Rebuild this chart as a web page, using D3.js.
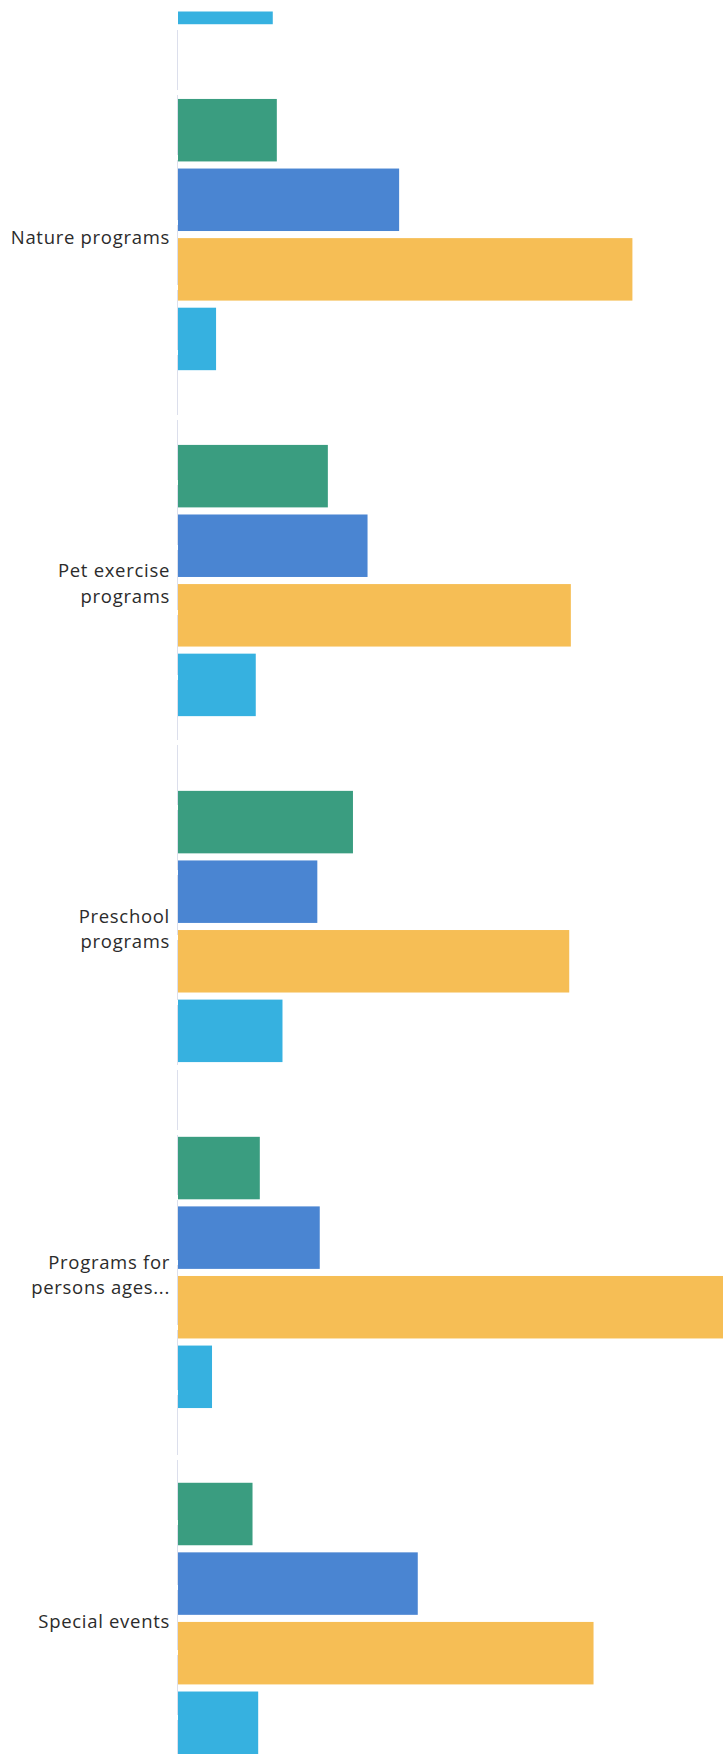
<!DOCTYPE html>
<html>
<head>
<meta charset="utf-8">
<script src="https://cdn.jsdelivr.net/npm/d3@7"></script>
<style>
  html, body { margin: 0; padding: 0; background: #ffffff; overflow: hidden; }
  svg { display: block; }
</style>
</head>
<body>
<div id="chart"></div>
<script>
// ---- data (percent of responses; the view is a crop of a longer chart) ----
const categories = ["(previous)", "Nature programs", "Pet exercise programs", "Preschool programs", "Programs for persons ages...", "Special events"];
const labelLines = [[], ["Nature programs"], ["Pet exercise", "programs"], ["Preschool", "programs"], ["Programs for", "persons ages..."], ["Special events"]];
const series = ["Series 1", "Series 2", "Series 3", "Series 4"];
const series1 = [null, 12.2, 18.5, 21.6, 10.1, 9.2];
const series2 = [null, 27.3, 23.4, 17.2, 17.5, 29.6];
const series3 = [null, 56.1, 48.5, 48.3, 68.2, 51.3];
const series4 = [11.7, 4.7, 9.6, 12.9, 4.2, 9.9];
const colors = ["#3a9d80", "#4a85d2", "#f6be55", "#36b1e0"];

const W = 723, H = 1754;
const axisX = 178;
const viewTop = 11.5;

const svg = d3.select("#chart").append("svg")
  .attr("width", W).attr("height", H)
  .attr("viewBox", `0 0 ${W} ${H}`);

svg.append("defs").append("clipPath").attr("id", "view")
  .append("rect").attr("x", 0).attr("y", viewTop).attr("width", W).attr("height", H - viewTop);

const x = d3.scaleLinear().domain([0, 100]).range([axisX, axisX + 810]);
const y0 = d3.scaleBand().domain(categories).range([-247, H]).paddingInner(0.216).paddingOuter(0);
const y1 = d3.scaleBand().domain(series).range([0, y0.bandwidth()]).paddingInner(0.102).paddingOuter(0);
const color = d3.scaleOrdinal().domain(series).range(colors);

const seriesValues = [series1, series2, series3, series4];
const rows = categories.map((c, i) => ({
  cat: c,
  lines: labelLines[i],
  bars: series.map((s, j) => ({ s, v: seriesValues[j][i] })).filter(d => d.v != null)
}));

const root = svg.append("g").attr("clip-path", "url(#view)");

// axis line
root.append("line")
  .attr("x1", axisX - 0.5).attr("x2", axisX - 0.5)
  .attr("y1", 30).attr("y2", H)
  .attr("stroke", "#dcdfec").attr("stroke-width", 1)
  .attr("stroke-dasharray", "60,5");

const g = root.append("g").selectAll("g.cat").data(rows).join("g")
  .attr("class", "cat")
  .attr("transform", d => `translate(0,${y0(d.cat)})`);

g.selectAll("rect").data(d => d.bars).join("rect")
  .attr("x", x(0))
  .attr("y", d => y1(d.s))
  .attr("width", d => x(d.v) - x(0))
  .attr("height", y1.bandwidth())
  .attr("fill", d => color(d.s));

// labels
g.each(function(d) {
  const n = d.lines.length;
  if (!n) return;
  const cy = y0.bandwidth() / 2;
  const t = d3.select(this).append("text")
    .attr("text-anchor", "end")
    .attr("font-family", "'Open Sans', 'Noto Sans', sans-serif")
    .attr("font-size", 18.5)
    .attr("letter-spacing", 0.7)
    .attr("fill", "#2b2b2b");
  d.lines.forEach((line, k) => {
    const base = n === 1 ? cy + 9.5 : cy - 3.5 + k * 25.5;
    t.append("tspan").attr("x", 170).attr("y", base).text(line);
  });
});
</script>
</body>
</html>
